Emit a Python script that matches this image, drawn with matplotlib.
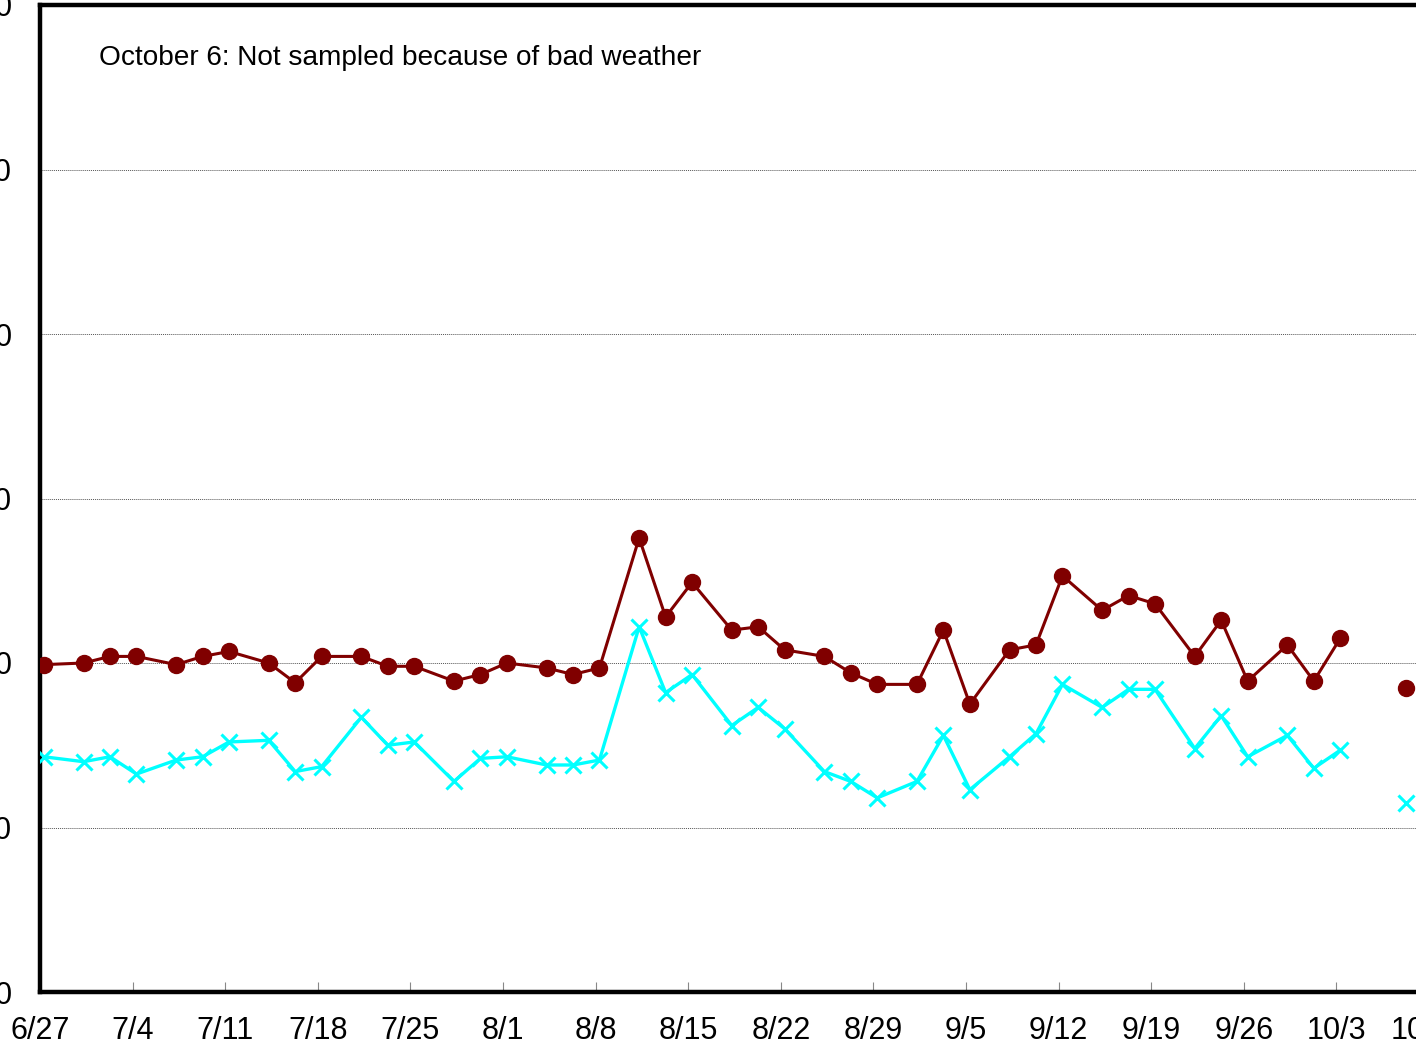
import numpy as np
import pandas as pd
from matplotlib import pyplot as plt
import matplotlib.dates as mdates

# ── Data ──────────────────────────────────────────────────────────────────
dates = ['06-27', '06-30', '07-02', '07-04', '07-07', '07-09', '07-11',
         '07-14', '07-16', '07-18', '07-21', '07-23', '07-25', '07-28',
         '07-30', '08-01', '08-04', '08-06', '08-08', '08-11', '08-13',
         '08-15', '08-18', '08-20', '08-22', '08-25', '08-27', '08-29',
         '09-01', '09-03', '09-05', '09-08', '09-10', '09-12', '09-15',
         '09-17', '09-19', '09-22', '09-24', '09-26', '09-29', '10-01',
         '10-03', '10-06', '10-08']

series_red = [19.9, 20.0, 20.4, 20.4, 19.9, 20.4, 20.7, 20.0, 18.8, 20.4,
              20.4, 19.8, 19.8, 18.9, 19.3, 20.0, 19.7, 19.3, 19.7, 27.6,
              22.8, 24.9, 22.0, 22.2, 20.8, 20.4, 19.4, 18.7, 18.7, 22.0,
              17.5, 20.8, 21.1, 25.3, 23.2, 24.1, 23.6, 20.4, 22.6, 18.9,
              21.1, 18.9, 21.5, np.nan, 18.5]

series_cyan = [14.3, 14.0, 14.3, 13.25, 14.1, 14.3, 15.2, 15.3, 13.4, 13.7,
               16.7, 15.0, 15.2, 12.8, 14.2, 14.3, 13.8, 13.8, 14.1, 22.2,
               18.2, 19.3, 16.2, 17.3, 16.0, 13.4, 12.8, 11.8, 12.8, 15.6,
               12.3, 14.3, 15.7, 18.7, 17.3, 18.4, 18.4, 14.8, 16.8, 14.3,
               15.6, 13.6, 14.7, np.nan, 11.5]

tick_dates = ['06-27', '07-04', '07-11', '07-18', '07-25', '08-01', '08-08',
              '08-15', '08-22', '08-29', '09-05', '09-12', '09-19', '09-26',
              '10-03', '10-10']
y_ticks = [0, 10, 20, 30, 40, 50, 60]

note = 'October 6: Not sampled because of bad weather'

# sampling time of day (points sit slightly right of the date ticks)
x = pd.to_datetime(['2000-' + d for d in dates]) + pd.Timedelta(hours=7)
xt = pd.to_datetime(['2000-' + d for d in tick_dates])

plt.rcParams['font.family'] = ['Liberation Sans', 'DejaVu Sans']

fig = plt.figure(figsize=(14.16, 10.51), dpi=100)
ax = fig.add_axes([40 / 1416, 1 - 992 / 1051, 1389 / 1416, 987 / 1051])

ax.plot(x, series_red, color='#800000', linewidth=2.2, marker='o',
        markersize=11.5, zorder=3)
ax.plot(x, series_cyan, color='#00FFFF', linewidth=2.4, marker='x',
        markersize=11.5, markeredgewidth=2.2, zorder=3)

ax.set_xlim(xt[0], xt[-1])
ax.set_ylim(0, 60)
ax.set_xticks(xt)
ax.xaxis.set_major_formatter(mdates.DateFormatter('%-m/%-d'))
ax.set_yticks(y_ticks)

ax.grid(axis='y', color='#555555', linestyle=(0, (1, 1)), linewidth=0.7)
ax.tick_params(axis='y', length=0, pad=20, labelsize=22)
ax.tick_params(axis='x', direction='in', length=7, width=0.8,
               color='#888888', pad=17, labelsize=22)

for s in ['left', 'bottom', 'top', 'right']:
    ax.spines[s].set_linewidth(3.2)

ax.text(59 / 1389, 1 - 53 / 987, note, transform=ax.transAxes,
        fontsize=20.2, va='center', ha='left')

fig.savefig('out.png', dpi=100)
